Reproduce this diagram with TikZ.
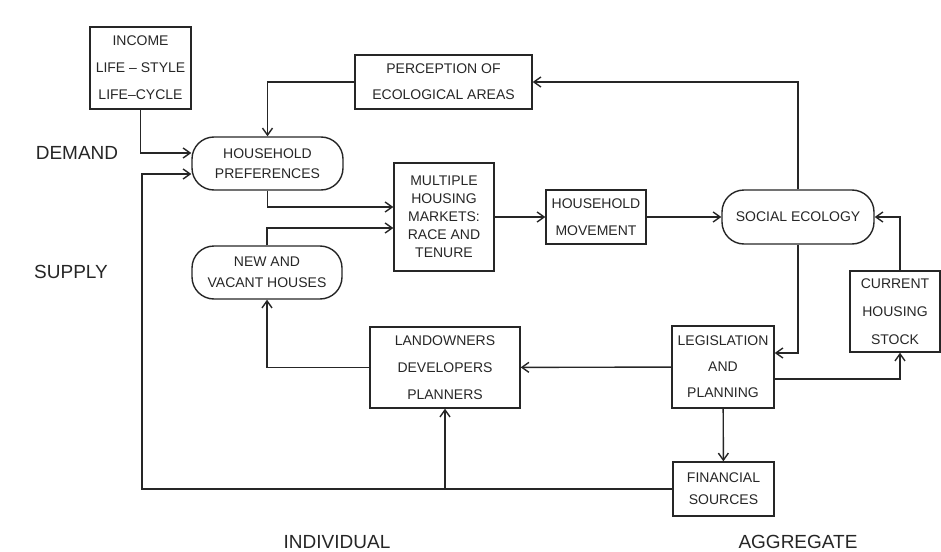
\documentclass[tikz,border=0pt]{standalone}
\usepackage{fontspec}
\setmainfont{Liberation Sans}
\usetikzlibrary{arrows.meta}

\begin{document}
\begin{tikzpicture}[x=0.5pt,y=-0.5pt,
  box/.style={draw=black!85, line width=0.7pt, align=center, inner sep=0pt,
    text=black!85, font=\fontsize{7}{13.5}\selectfont},
  rbox/.style={box, rounded corners=11pt},
  arr/.style={draw=black!85, line width=0.7pt, -{Straight Barb[length=3.5pt,width=5pt]}},
  side/.style={text=black!85, font=\fontsize{9.5}{11}\selectfont}]
  \useasboundingbox (0,0) rectangle (941,551);

  % Side labels
  \node[side] (dem) at (77,153) {DEMAND};
  \node[side] (sup) at (71,272) {SUPPLY};
  \node[side, anchor=south, inner sep=0pt] (ind) at (337,549) {INDIVIDUAL};
  \node[side, anchor=south, inner sep=0pt] (agg) at (798,549) {AGGREGATE};

  % Demand side
  \node[box, minimum width=50.5pt, minimum height=41pt] (inc) at (140.5,68)
      {INCOME\\LIFE -- STYLE\\LIFE--CYCLE};
  \node[box, minimum width=88.5pt, minimum height=27pt,
      font=\fontsize{7}{13}\selectfont] (perc) at (443.5,82)
      {PERCEPTION OF\\ECOLOGICAL AREAS};
  \node[rbox, minimum width=75.5pt, minimum height=26.5pt,
      font=\fontsize{7}{10}\selectfont] (hp) at (267.5,163.5)
      {HOUSEHOLD\\PREFERENCES};

  % Markets and movement
  \node[box, minimum width=50pt, minimum height=54pt,
      font=\fontsize{7}{9}\selectfont] (mhm) at (444,217)
      {MULTIPLE\\HOUSING\\MARKETS:\\RACE AND\\TENURE};
  \node[box, minimum width=50pt, minimum height=27pt] (hm) at (596,217)
      {HOUSEHOLD\\MOVEMENT};
  \node[rbox, minimum width=76pt, minimum height=27pt] (se) at (798,217)
      {SOCIAL ECOLOGY};

  % Supply side
  \node[rbox, minimum width=75pt, minimum height=26.5pt,
      font=\fontsize{7}{10.5}\selectfont] (nvh) at (267,272.5)
      {NEW AND\\VACANT HOUSES};
  \node[box, minimum width=45pt, minimum height=40.5pt,
      font=\fontsize{7}{14}\selectfont] (cur) at (895,311.5)
      {CURRENT\\HOUSING\\STOCK};
  \node[box, minimum width=75pt, minimum height=40.5pt] (land) at (445,367.5)
      {LANDOWNERS\\DEVELOPERS\\PLANNERS};
  \node[box, minimum width=51pt, minimum height=41pt,
      font=\fontsize{7}{13}\selectfont] (leg) at (723,367)
      {LEGISLATION\\AND\\PLANNING};
  \node[box, minimum width=50.5pt, minimum height=27pt,
      font=\fontsize{7}{11}\selectfont] (fin) at (723.5,489)
      {FINANCIAL\\SOURCES};

  % Connectors
  \draw[arr] (inc.south) |- ([yshift=5.25pt]hp.west);
  \draw[arr] (perc.west) -| (hp.north);
  \draw[arr] (se.north) |- (perc.east);
  \draw[arr] (hp.south) |- ([yshift=5pt]mhm.west);
  \draw[arr] (nvh.north) |- ([yshift=-5.5pt]mhm.west);
  \draw[arr] (mhm) -- (hm);
  \draw[arr] (hm) -- (se);
  \draw[arr] (se.south) |- ([yshift=7pt]leg.east);
  \draw[arr] ([xshift=2.5pt]cur.north) |- (se.east);
  \draw[arr] ([yshift=-6pt]leg.east) -| ([xshift=2.5pt]cur.south);
  \draw[arr] (leg) -- (land);
  \draw[arr] (land.west) -| (nvh.south);
  \draw[arr] (leg) -- (fin);

  % Financial loop back to preferences
  \coordinate (lp) at (142,489);
  \draw[arr] (fin.west) -- (lp) |- ([yshift=-5.25pt]hp.west);
  \draw[arr] (land.south |- fin.west) -- (land.south);
\end{tikzpicture}
\end{document}
